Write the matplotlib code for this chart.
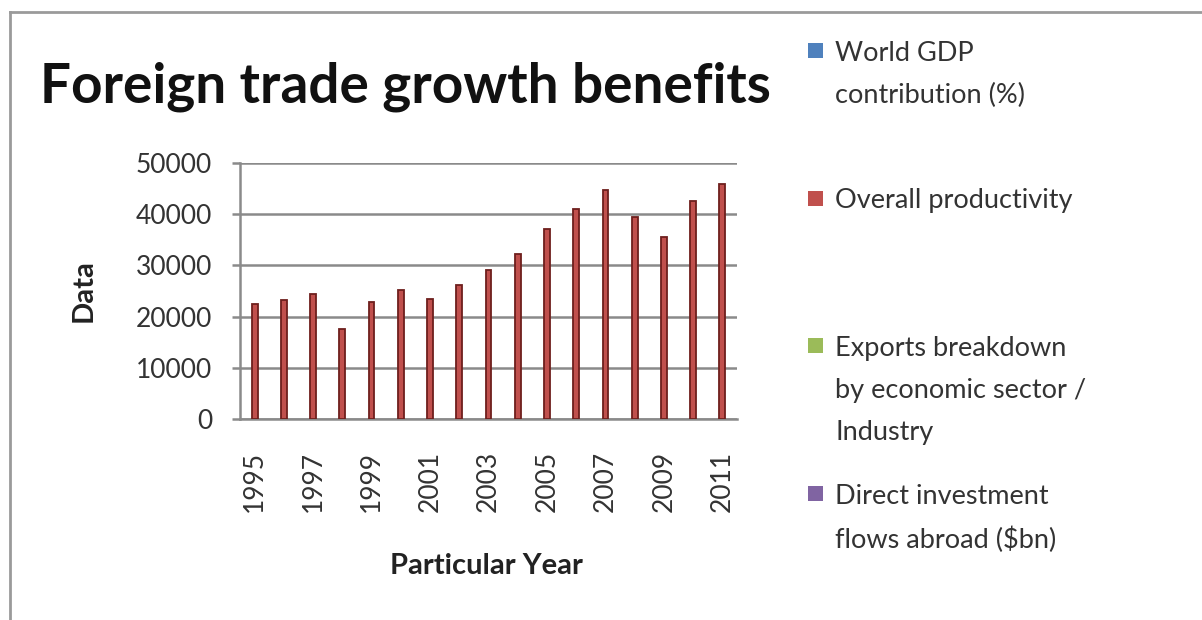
import numpy as np
import matplotlib.pyplot as plt
from matplotlib.patches import Rectangle
from matplotlib.lines import Line2D

plt.rcParams["font.family"] = ["Lato", "DejaVu Sans"]

# ── data ──────────────────────────────────────────
years = list(range(1995, 2012))
series_names = [
    "World GDP\ncontribution (%)",
    "Overall productivity",
    "Exports breakdown\nby economic sector /\nIndustry",
    "Direct investment\nflows abroad ($bn)",
]
series_colors = ["#4F81BD", "#C0504D", "#9BBB59", "#8064A2"]

world_gdp = [0] * len(years)
productivity = [22400, 23300, 24500, 17500, 22800, 25200, 23500, 26100, 29100,
                32200, 37100, 41100, 44800, 39500, 35600, 42600, 45900]
exports = [0] * len(years)
investment = [0] * len(years)

tick_labels = [str(y) if (y - 1995) % 2 == 0 else "" for y in years]

W, H = 1202, 620

# ── figure ────────────────────────────────────────
fig = plt.figure(figsize=(W / 100, H / 100), dpi=100)
fig.patch.set_facecolor("white")

# outer chart frame (top + left edges)
fig.add_artist(Line2D([10 / W, 1.0], [1 - 12 / H, 1 - 12 / H],
                      transform=fig.transFigure, color="#9a9a9a", lw=2))
fig.add_artist(Line2D([10 / W, 10 / W], [0.0, 1 - 12 / H],
                      transform=fig.transFigure, color="#9a9a9a", lw=2))

ax = fig.add_axes([240 / W, 1 - 419 / H, 497 / W, 256 / H])

x = np.arange(len(years))
w = 0.2
all_series = [world_gdp, productivity, exports, investment]
for vals, col in zip(all_series, series_colors):
    if any(vals):
        ax.bar(x, vals, width=w, color=col, edgecolor="#6e1f1d", linewidth=1.3, zorder=3)

ax.set_xlim(-0.5, len(years) - 0.5)
ax.set_ylim(0, 50000)
ax.set_yticks(np.arange(0, 50001, 10000))
ax.set_yticklabels([str(v) for v in range(0, 50001, 10000)], fontsize=19, color="#333333")
ax.yaxis.grid(True, color="#8a8a8a", lw=1.8, zorder=0)
ax.set_xticks(x)
ax.set_xticklabels(tick_labels, rotation=90, fontsize=19, color="#333333")
ax.tick_params(axis="x", length=0, pad=23)
ax.tick_params(axis="y", length=6, width=1.8, color="#8a8a8a", pad=14)

for s in ["top", "right"]:
    ax.spines[s].set_visible(False)
for s in ["left", "bottom"]:
    ax.spines[s].set_color("#8a8a8a")
    ax.spines[s].set_linewidth(1.8)

ax.set_ylabel("Data", fontsize=21, fontweight="bold", color="#222222")
ax.yaxis.set_label_coords((84 - 240) / 497, 0.5)
ax.yaxis.label.set_verticalalignment("center")
ax.set_xlabel("Particular Year", fontsize=21, fontweight="bold", color="#222222")
ax.xaxis.set_label_coords((486 - 240) / 497, (419 - 566) / 256)
ax.xaxis.label.set_verticalalignment("center")

fig.text(40 / W, 1 - 103 / H, "Foreign trade growth benefits", fontsize=39.5,
         fontweight="bold", color="#111111", va="baseline", ha="left")

# legend, entries spread evenly down the right side
top = 51
step = 147.5
for i, (name, col) in enumerate(zip(series_names, series_colors)):
    yc = top + i * step
    fig.add_artist(Rectangle((808 / W, 1 - (yc + 7) / H), 15 / W, 15 / H,
                             transform=fig.transFigure, facecolor=col, edgecolor="none"))
    fig.text(835 / W, 1 - (yc - 10) / H, name, fontsize=19.5, color="#333333",
             va="top", ha="left", linespacing=1.85)

fig.savefig("out.png", dpi=100, facecolor="white")
